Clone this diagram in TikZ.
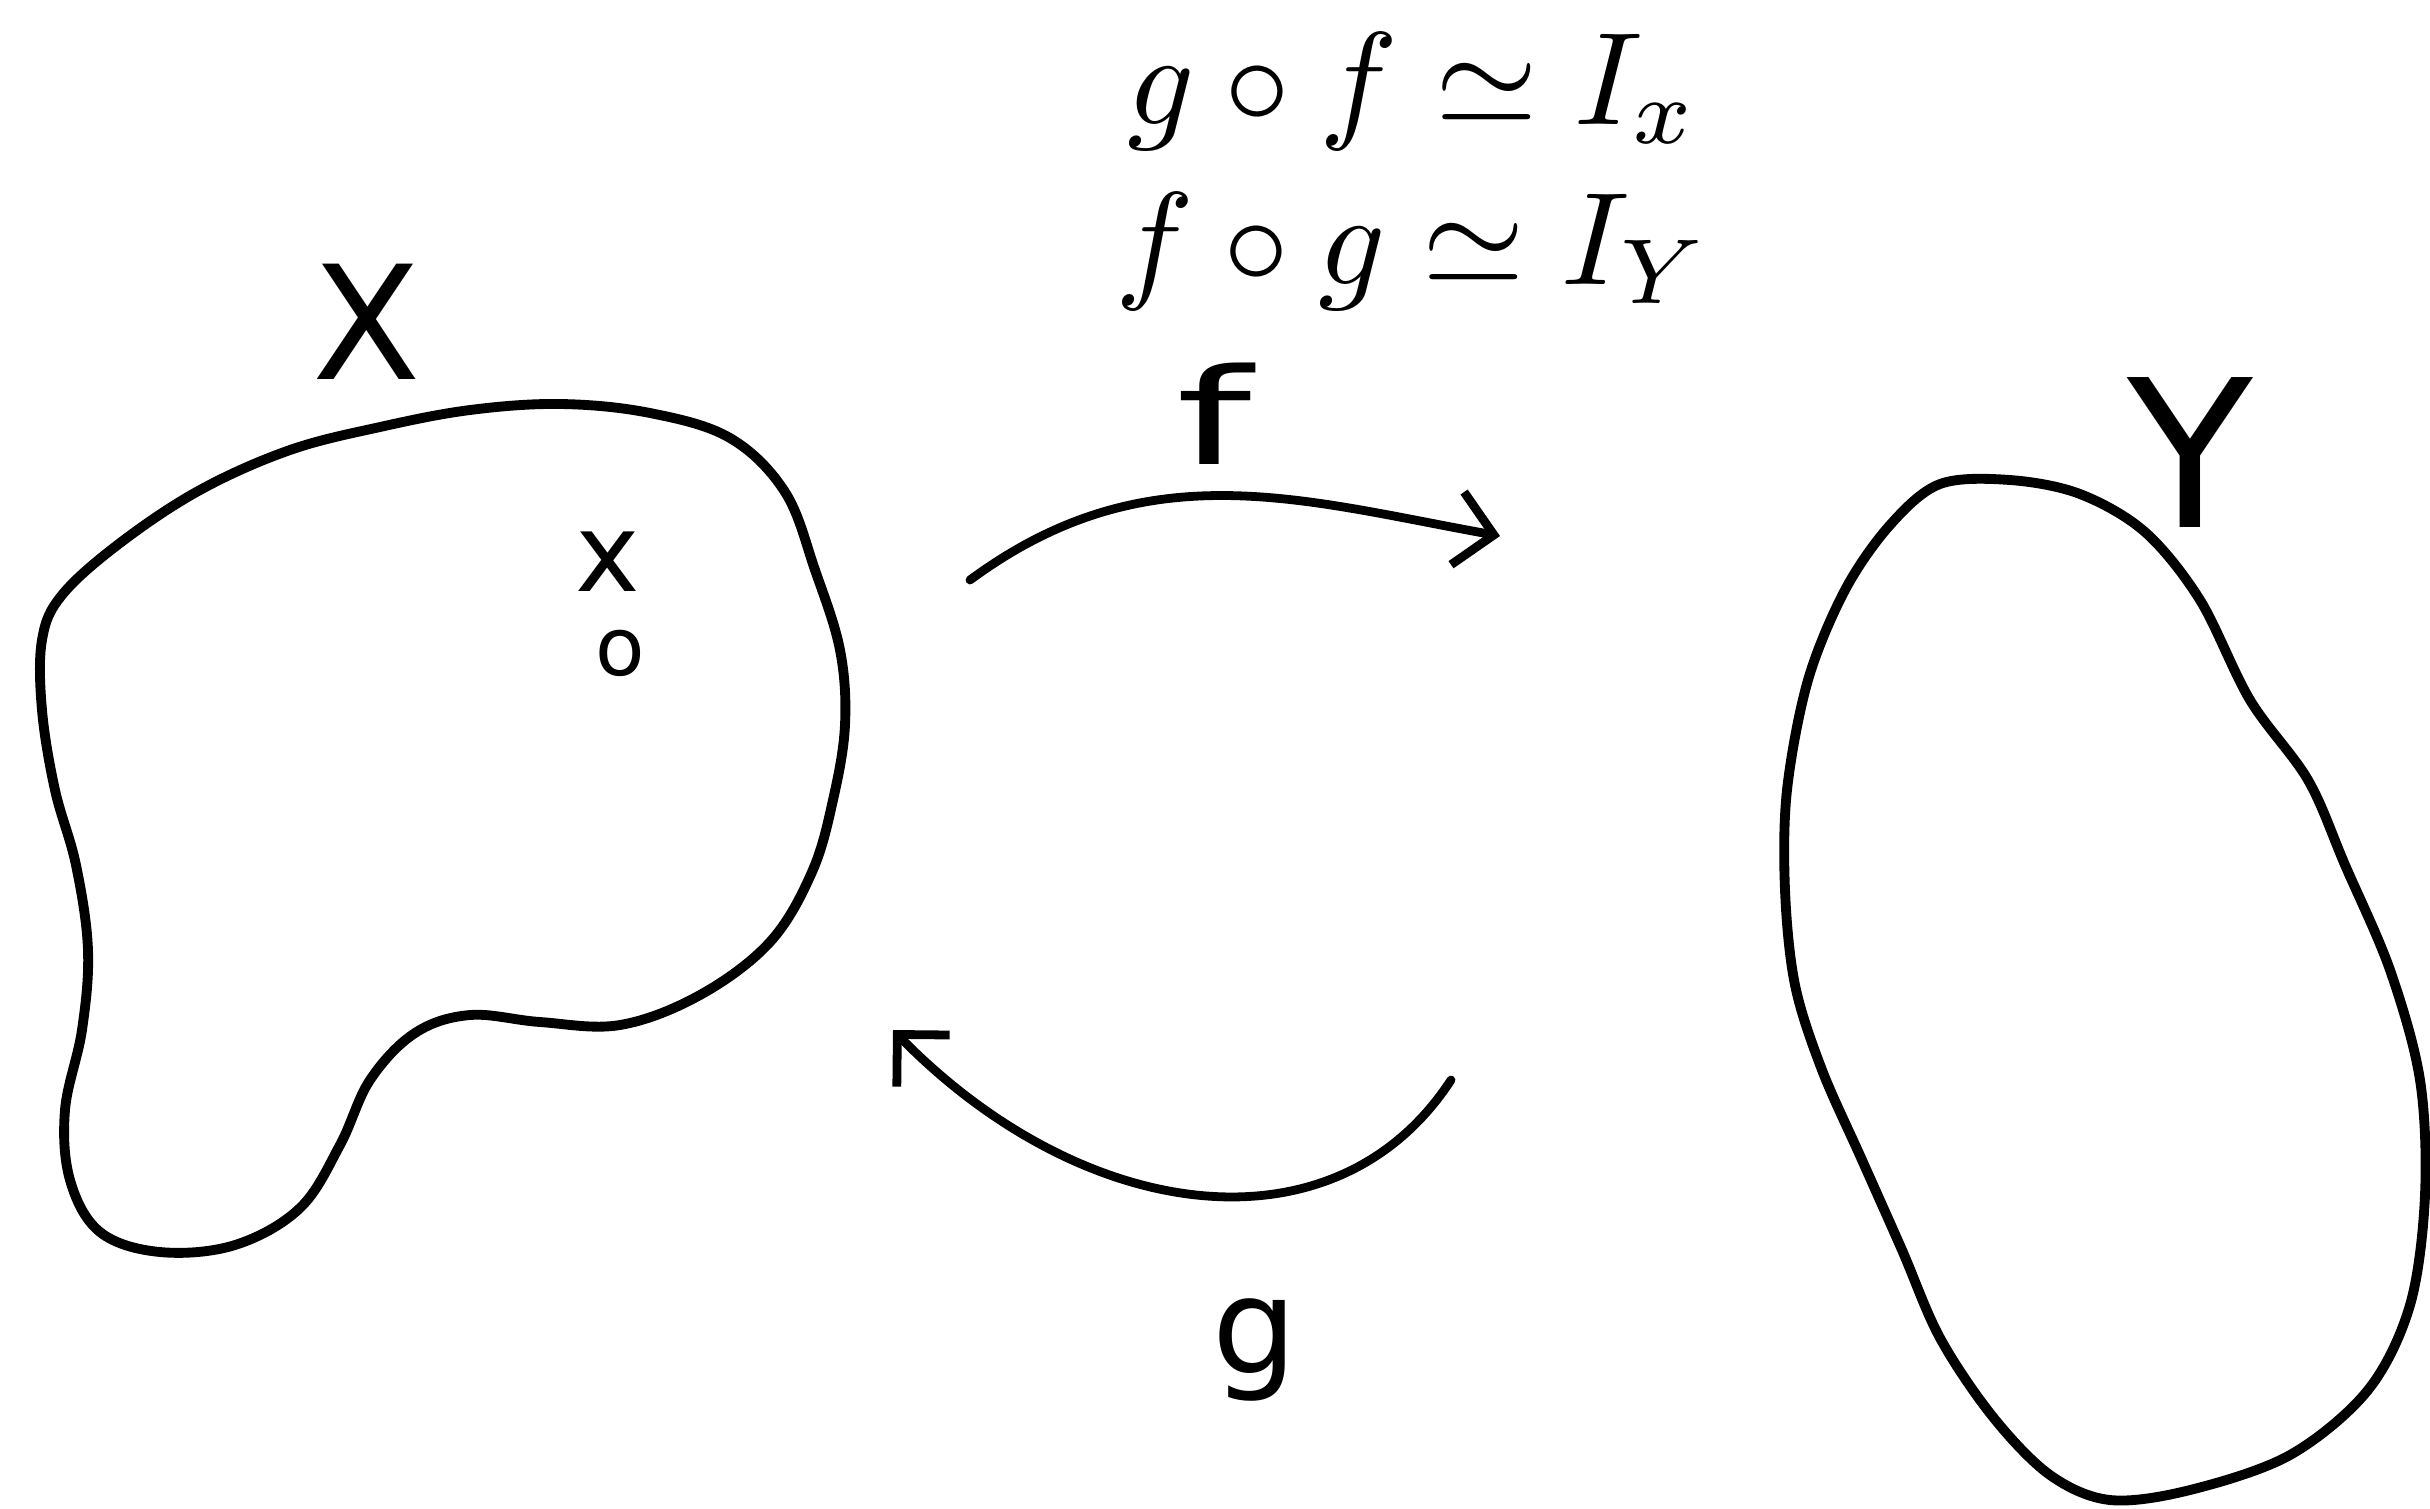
\documentclass[tikz,border=0pt]{standalone}
\usepackage{fontspec}
\newfontfamily\handfont{DejaVu Sans}
\usetikzlibrary{arrows.meta}
\begin{document}
\begin{tikzpicture}[x=0.01cm,y=-0.01cm,
  outline/.style={line width=2.8pt,line join=round,line cap=round},
  maparrow/.style={line width=2.5pt,line cap=round,line join=round,-{Straight Barb[length=10.5pt,width=21pt]}},
  hand/.style={inner sep=0pt,font=\handfont\fontsize{#1}{#1}\selectfont},
  rel/.style={inner sep=0pt,anchor=base,scale=3.75}]
\useasboundingbox (0,0) rectangle (2430,1508);

% space X
\draw[outline] plot[smooth cycle,tension=0.6] coordinates {
 (561,404) (650,413) (730,438) (785,492) (815,570) (840,650) (845,725) (833,800)
 (812,872) (770,942) (700,995) (620,1025) (540,1022) (470,1015) (415,1033)
 (370,1080) (340,1145) (300,1208) (235,1245) (160,1252) (100,1232) (70,1180)
 (65,1110) (82,1030) (88,950) (76,865) (55,790) (42,710) (42,640) (62,595)
 (120,543) (200,490) (290,450) (380,427) (470,410)};

% space Y
\draw[outline] plot[smooth cycle,tension=0.55] coordinates {
 (1940,484) (2010,480) (2080,494) (2145,532) (2200,600) (2250,700) (2308,780)
 (2345,865) (2390,970) (2420,1080) (2425,1195) (2410,1305) (2368,1390)
 (2290,1455) (2190,1490) (2110,1500) (2050,1475) (1993,1417) (1940,1338)
 (1902,1250) (1862,1160) (1822,1070) (1795,985) (1785,890) (1787,790)
 (1808,680) (1845,590) (1890,525)};

% labels
\node[hand=45] (Xlab) at (367,322) {X};
\node[hand=58.5] (Ylab) at (2190,452) {Y};
\node[hand=31] (xpt) at (608,562) {x};
\node[hand=23] (opt) at (620,653) {o};
\node[hand=38] (flab) at (1214,414) {\scalebox{1.6}[1]{f}};
\node[hand=38] (glab) at (1255,1350) {g};

% relations
\node[rel] (rel1) at (1413,124) {$g\circ f\simeq I_x$};
\node[rel] (rel2) at (1413,284) {$f\circ g\simeq I_Y$};

% maps
\coordinate (fstart) at (970,580);
\coordinate (fend) at (1500,536);
\coordinate (gstart) at (1451,1080);
\coordinate (gend) at (893,1030);
\draw[maparrow] (fstart) .. controls (1146,450) and (1300,500) .. (fend);
\draw[maparrow] (gstart) .. controls (1335,1258) and (1083,1224) .. (gend);
\end{tikzpicture}
\end{document}
